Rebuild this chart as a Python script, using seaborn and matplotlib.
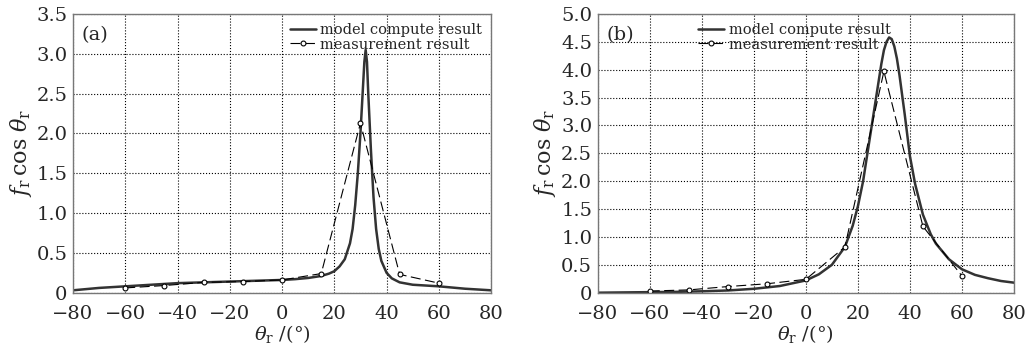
import numpy as np
import pandas as pd
import seaborn as sns
import matplotlib
matplotlib.use("Agg")
import matplotlib.pyplot as plt
from matplotlib.ticker import FuncFormatter

# measured points (both panels share the angles)
meas_x = [-60, -45, -30, -15, 0, 15, 30, 45, 60]
meas_a = [0.06, 0.09, 0.13, 0.14, 0.16, 0.24, 2.13, 0.23, 0.12]
meas_b = [0.03, 0.05, 0.11, 0.16, 0.24, 0.82, 3.97, 1.19, 0.30]

# model curves
model_a_x = [-80, -70, -60, -50, -40, -30, -20, -10, 0, 5, 10, 15, 18, 20, 22, 24, 26, 27, 28, 29, 30,
             31, 31.5, 32, 32.5, 33, 34, 35, 36, 37, 38, 40, 42, 45, 50, 55, 60, 70, 80]
model_a_y = [0.03, 0.06, 0.08, 0.10, 0.12, 0.13, 0.14, 0.15, 0.16, 0.17, 0.185, 0.21, 0.24, 0.27, 0.33,
             0.42, 0.62, 0.80, 1.1, 1.5, 2.0, 2.6, 2.9, 3.05, 2.9, 2.5, 1.8, 1.2, 0.8, 0.55, 0.40, 0.25,
             0.18, 0.13, 0.10, 0.09, 0.08, 0.05, 0.03]

model_b_x = [-80, -70, -60, -50, -40, -30, -20, -10, 0, 5, 10, 15, 18, 20, 22, 24, 26, 28, 29, 30, 31,
             32, 33, 34, 35, 36, 38, 40, 42, 45, 48, 50, 55, 60, 65, 70, 75, 80]
model_b_y = [0.0, 0.005, 0.01, 0.015, 0.025, 0.04, 0.07, 0.12, 0.22, 0.33, 0.5, 0.82, 1.2, 1.55, 2.0,
             2.6, 3.2, 3.8, 4.1, 4.35, 4.5, 4.58, 4.55, 4.42, 4.2, 3.9, 3.2, 2.45, 1.95, 1.4, 1.05, 0.88,
             0.6, 0.42, 0.32, 0.26, 0.21, 0.18]

x_ticks = [-80, -60, -40, -20, 0, 20, 40, 60, 80]

sns.set_style("ticks")
plt.rcParams['font.family'] = ['DejaVu Serif']
plt.rcParams['mathtext.fontset'] = 'dejavuserif'
plt.rcParams['xtick.direction'] = 'in'
plt.rcParams['ytick.direction'] = 'in'

fig = plt.figure(figsize=(10.35, 3.55), dpi=100)
ax_a = fig.add_axes([0.0705, 0.1755, 0.404, 0.785])
ax_b = fig.add_axes([0.5775, 0.1755, 0.4022, 0.785])


def yfmt(v, pos):
    return "0" if abs(v) < 1e-9 else "%.1f" % v


def xfmt(v, pos):
    return ("%d" % v).replace("-", "\u2212")


def panel(ax, mx, my, px, py, ymax, label, leg_loc):
    model = pd.DataFrame({"x": mx, "y": my})
    meas = pd.DataFrame({"x": px, "y": py})
    sns.lineplot(data=model, x="x", y="y", ax=ax, color="#333333", lw=1.8,
                 label="model compute result", sort=False)
    sns.lineplot(data=meas, x="x", y="y", ax=ax, color="black", lw=0.8,
                 marker="o", markersize=3.5, markerfacecolor="white",
                 markeredgecolor="black", markeredgewidth=0.8,
                 label="measurement result", sort=False)
    ax.lines[1].set_dashes((9, 4))
    ax.set_xlim(-80, 80)
    ax.set_ylim(0, ymax)
    ax.set_xticks(x_ticks)
    ax.set_yticks(np.arange(0, ymax + 0.01, 0.5))
    ax.yaxis.set_major_formatter(FuncFormatter(yfmt))
    ax.xaxis.set_major_formatter(FuncFormatter(xfmt))
    ax.grid(True, color="black", linestyle=":", linewidth=0.8)
    ax.tick_params(labelsize=14, length=0)
    ax.tick_params(axis="x", pad=9)
    ax.tick_params(axis="y", pad=4)
    for s in ax.spines.values():
        s.set_color("#777777")
        s.set_linewidth(1.0)
    ax.set_xlabel(r"$\theta_{\rm r}$ /(°)", fontsize=14, labelpad=0)
    ax.set_ylabel(r"$f_{\rm r}\,\cos\,\theta_{\rm r}$", fontsize=16, labelpad=2)
    ax.text(0.02, 0.955, label, transform=ax.transAxes, fontsize=14, va="top", ha="left")
    leg = ax.legend(loc=leg_loc, frameon=False, fontsize=10.5, handlelength=1.8,
                    handletextpad=0.3, labelspacing=0.05, borderaxespad=0.2)
    return leg


panel(ax_a, model_a_x, model_a_y, meas_x, meas_a, 3.5, "(a)", "upper right")
leg = panel(ax_b, model_b_x, model_b_y, meas_x, meas_b, 5.0, "(b)", "upper left")
leg.set_bbox_to_anchor((0.22, 1.0), transform=ax_b.transAxes)

fig.savefig("out.png", dpi=100)
